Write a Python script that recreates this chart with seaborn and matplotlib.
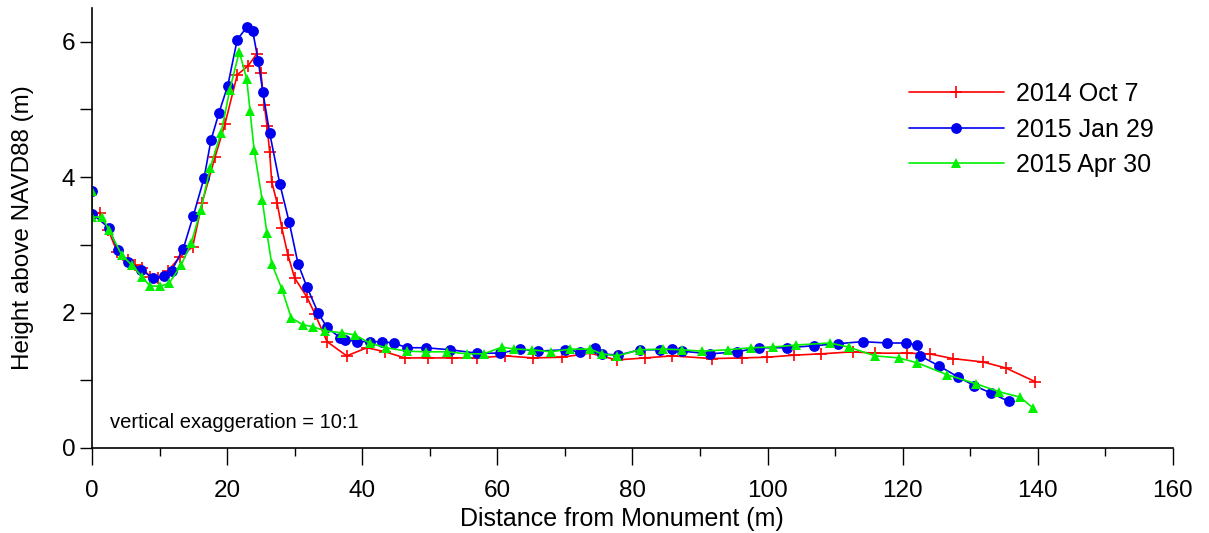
import pandas as pd
import matplotlib.pyplot as plt
import seaborn as sns
from matplotlib.ticker import MultipleLocator

sns.set_style('ticks')
plt.rcParams['font.family'] = ['Liberation Sans', 'DejaVu Sans']
plt.rcParams['text.color'] = 'black'
plt.rcParams['axes.labelcolor'] = 'black'
plt.rcParams['xtick.color'] = 'black'
plt.rcParams['ytick.color'] = 'black'

# 2014 Oct 7 (red, crosses)
oct_x = [0, 1.2, 2.4, 3.7, 5.3, 6.4, 7.4, 8.6, 9.8, 11.3, 13.0, 14.9, 16.3, 18.2, 19.7,
         21.5, 23.1, 24.4, 25.0, 25.5, 25.9, 26.3, 26.6, 27.4, 28.1, 29.0, 30.0, 31.8,
         33.0, 34.8, 37.7, 40.7, 43.4, 46.3, 49.7, 53.3, 57.0, 61.1, 65.3, 69.6, 73.7,
         77.7, 81.9, 85.9, 91.8, 96.2, 99.9, 103.9, 107.9, 112.6, 115.9, 120.6, 124.0,
         127.4, 131.9, 135.3, 139.6]
oct_y = [3.46, 3.47, 3.22, 2.90, 2.78, 2.70, 2.66, 2.53, 2.51, 2.62, 2.82, 2.97, 3.62,
         4.29, 4.79, 5.51, 5.64, 5.82, 5.54, 5.07, 4.76, 4.37, 3.93, 3.62, 3.25, 2.85,
         2.51, 2.23, 1.98, 1.57, 1.36, 1.48, 1.42, 1.33, 1.33, 1.33, 1.33, 1.36, 1.33,
         1.34, 1.40, 1.30, 1.33, 1.36, 1.32, 1.33, 1.34, 1.37, 1.39, 1.42, 1.40, 1.40,
         1.39, 1.32, 1.27, 1.18, 0.98]

# 2015 Jan 29 (blue, circles)
jan_x = [0, 0, 2.5, 3.8, 5.3, 7.3, 9.0, 10.7, 11.8, 13.5, 15.0, 16.6, 17.6, 18.8, 20.1,
         21.5, 22.9, 23.8, 24.6, 25.3, 26.3, 27.8, 29.2, 30.5, 31.8, 33.5, 34.8, 36.7,
         37.4, 39.2, 41.1, 42.9, 44.7, 46.6, 49.4, 53.0, 57.0, 60.4, 63.4, 66.0, 70.0,
         72.2, 74.5, 75.5, 77.9, 81.1, 84.1, 85.8, 87.3, 91.5, 95.5, 98.7, 102.9, 106.9,
         110.4, 114.1, 117.7, 120.5, 122.1, 122.6, 125.4, 128.2, 130.6, 133.1, 135.7]
jan_y = [3.80, 3.46, 3.25, 2.93, 2.75, 2.63, 2.51, 2.54, 2.62, 2.94, 3.43, 3.99, 4.54,
         4.95, 5.35, 6.03, 6.21, 6.15, 5.72, 5.25, 4.65, 3.90, 3.33, 2.72, 2.38, 1.99,
         1.78, 1.63, 1.60, 1.57, 1.57, 1.57, 1.55, 1.48, 1.48, 1.45, 1.40, 1.40, 1.46,
         1.43, 1.45, 1.42, 1.48, 1.39, 1.37, 1.45, 1.45, 1.46, 1.43, 1.39, 1.42, 1.48,
         1.48, 1.51, 1.54, 1.57, 1.55, 1.55, 1.52, 1.36, 1.21, 1.05, 0.92, 0.81, 0.69]

# 2015 Apr 30 (green, triangles)
apr_x = [0, 0, 1.5, 2.5, 4.4, 5.9, 7.4, 8.6, 10.1, 11.4, 13.2, 14.7, 16.1, 17.5, 19.1,
         20.4, 21.8, 22.9, 23.4, 24.0, 25.2, 25.9, 26.6, 28.1, 29.5, 31.2, 32.7, 34.5,
         37.0, 38.9, 41.1, 43.5, 46.6, 49.4, 52.5, 55.5, 58.0, 60.7, 62.5, 65.1, 67.9,
         70.8, 73.7, 75.5, 77.7, 81.1, 84.5, 87.3, 90.3, 94.1, 97.5, 100.8, 104.2, 109.2,
         112.0, 115.9, 119.4, 122.1, 126.6, 130.8, 134.3, 137.4, 139.3]
apr_y = [3.79, 3.41, 3.41, 3.22, 2.85, 2.70, 2.53, 2.39, 2.39, 2.43, 2.70, 3.03, 3.52,
         4.14, 4.65, 5.29, 5.85, 5.45, 4.97, 4.40, 3.66, 3.17, 2.72, 2.35, 1.92, 1.82,
         1.79, 1.73, 1.70, 1.67, 1.55, 1.48, 1.43, 1.42, 1.42, 1.39, 1.39, 1.49, 1.46,
         1.45, 1.42, 1.46, 1.46, 1.39, 1.36, 1.45, 1.46, 1.45, 1.43, 1.45, 1.48, 1.49,
         1.52, 1.55, 1.49, 1.36, 1.33, 1.26, 1.08, 0.95, 0.83, 0.75, 0.59]

surveys = [
    ('2014 Oct 7', oct_x, oct_y, '#ff0000', '+'),
    ('2015 Jan 29', jan_x, jan_y, '#0000f0', 'o'),
    ('2015 Apr 30', apr_x, apr_y, '#00f000', '^'),
]

fig = plt.figure(figsize=(12.09, 5.33), dpi=100)
ax = fig.add_axes([0.0761, 0.1595, 0.894, 0.826])

for label, xs, ys, color, marker in surveys:
    df = pd.DataFrame({'x': xs, 'y': ys})
    sns.lineplot(data=df, x='x', y='y', ax=ax, estimator=None, sort=False,
                 color=color, marker=marker, markersize=8 if marker == '+' else 7.8,
                 markeredgewidth=1.2 if marker == '+' else 0, markeredgecolor=color,
                 linewidth=1.2, label=label)

ax.set_xlim(0, 160)
ax.set_ylim(0, 6.5)
ax.xaxis.set_major_locator(MultipleLocator(20))
ax.xaxis.set_minor_locator(MultipleLocator(10))
ax.yaxis.set_major_locator(MultipleLocator(2))
ax.yaxis.set_minor_locator(MultipleLocator(1))
ax.tick_params(axis='x', which='major', length=12, width=1, labelsize=17.5, pad=11)
ax.tick_params(axis='x', which='minor', length=6, width=1)
ax.tick_params(axis='y', which='both', length=9, width=1, labelsize=17.5, pad=3)
sns.despine(ax=ax)
for side in ('left', 'bottom'):
    ax.spines[side].set_linewidth(1.2)
    ax.spines[side].set_color('black')

ax.set_xlabel('Distance from Monument (m)', fontsize=18, labelpad=4)
ax.xaxis.label.set_x(0.49)
ax.set_ylabel('Height above NAVD88 (m)', fontsize=17.5, labelpad=20)
ax.text(2.6, 0.38, 'vertical exaggeration = 10:1', fontsize=14.5, va='center')

ax.legend(loc='upper left', bbox_to_anchor=(0.735, 0.882), frameon=False, fontsize=18,
          handlelength=3.8, handletextpad=0.5, labelspacing=0.46)

fig.savefig('out.png', dpi=100)
